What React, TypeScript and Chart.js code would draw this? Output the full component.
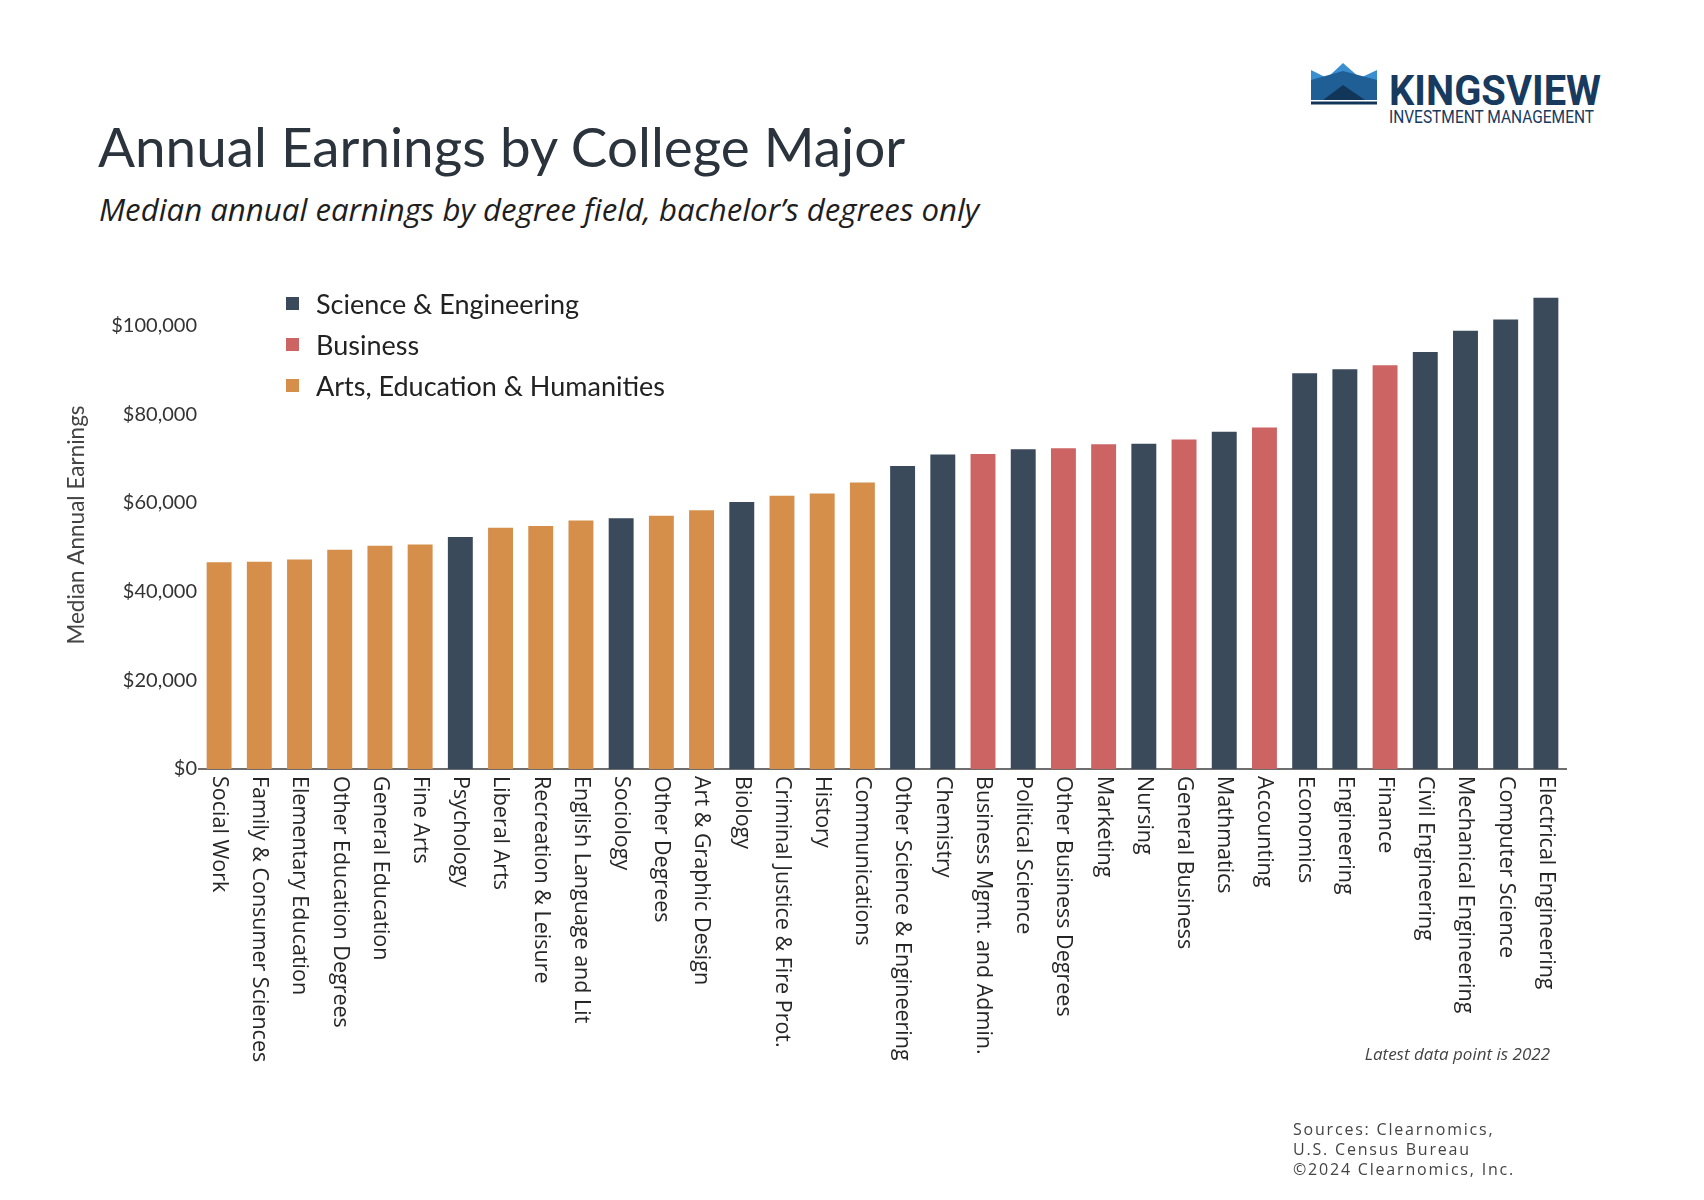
import React, { useEffect, useRef } from "react";
import { Chart, registerables } from "chart.js";

Chart.register(...registerables);

const categories: string[] = [
  "Social Work",
  "Family & Consumer Sciences",
  "Elementary Education",
  "Other Education Degrees",
  "General Education",
  "Fine Arts",
  "Psychology",
  "Liberal Arts",
  "Recreation & Leisure",
  "English Language and Lit",
  "Sociology",
  "Other Degrees",
  "Art & Graphic Design",
  "Biology",
  "Criminal Justice & Fire Prot.",
  "History",
  "Communications",
  "Other Science & Engineering",
  "Chemistry",
  "Business Mgmt. and Admin.",
  "Political Science",
  "Other Business Degrees",
  "Marketing",
  "Nursing",
  "General Business",
  "Mathmatics",
  "Accounting",
  "Economics",
  "Engineering",
  "Finance",
  "Civil Engineering",
  "Mechanical Engineering",
  "Computer Science",
  "Electrical Engineering",
];

const earnings: number[] = [
  46600, 46700, 47200, 49400, 50300, 50600, 52300, 54400, 54800, 56000,
  56500, 57100, 58300, 60200, 61600, 62100, 64600, 68300, 70900, 71000,
  72100, 72300, 73200, 73300, 74300, 76000, 77000, 89200, 90100, 91000,
  94000, 98800, 101300, 106200,
];

// S = Science & Engineering, B = Business, A = Arts, Education & Humanities
const groupOf: string[] = [
  "A", "A", "A", "A", "A", "A", "S", "A", "A", "A",
  "S", "A", "A", "S", "A", "A", "A", "S", "S", "B",
  "S", "B", "B", "S", "B", "S", "B", "S", "S", "B",
  "S", "S", "S", "S",
];

const groupKeys: string[] = ["S", "B", "A"];
const groupNames: string[] = [
  "Science & Engineering",
  "Business",
  "Arts, Education & Humanities",
];
const groupColors: string[] = ["#3a4a5b", "#cd6464", "#d58f4a"];

const yTicks: number[] = [0, 20000, 40000, 60000, 80000, 100000];

const xLabelPlugin = {
  id: "verticalXLabels",
  afterDraw(chart: any) {
    const { ctx } = chart;
    const xs = chart.scales.x;
    const bottom = chart.chartArea.bottom;
    ctx.save();
    ctx.font = "21.5px 'Open Sans'";
    ctx.fillStyle = "#262626";
    ctx.textAlign = "left";
    ctx.textBaseline = "middle";
    categories.forEach((label, i) => {
      const x = xs.getPixelForTick(i);
      ctx.save();
      ctx.translate(x, bottom + 7);
      ctx.rotate(Math.PI / 2);
      ctx.fillText(label, 0, 0);
      ctx.restore();
    });
    ctx.restore();
  },
};

function ChartCanvas() {
  const ref = useRef<HTMLCanvasElement | null>(null);
  useEffect(() => {
    if (!ref.current) return;
    const datasets = groupKeys.map((g, gi) => ({
      label: groupNames[gi],
      data: earnings.map((v, i) => (groupOf[i] === g ? v : null)),
      backgroundColor: groupColors[gi],
      borderWidth: 0,
      grouped: false,
      categoryPercentage: 1,
      barPercentage: 0.62,
    }));
    const chart = new Chart(ref.current, {
      type: "bar",
      data: { labels: categories, datasets },
      plugins: [xLabelPlugin],
      options: {
        animation: false,
        responsive: false,
        maintainAspectRatio: false,
        layout: { padding: { left: 0, top: 281, right: 138, bottom: 431 } },
        plugins: {
          legend: { display: false },
          tooltip: { enabled: false },
        },
        scales: {
          x: {
            ticks: { display: false },
            grid: { display: false, drawTicks: false },
            border: { display: true, color: "#6e6e6e", width: 2 },
            afterFit: (s: any) => {
              s.height = 0;
            },
          },
          y: {
            min: 0,
            max: 110000,
            afterBuildTicks: (s: any) => {
              s.ticks = yTicks.map((v) => ({ value: v }));
            },
            ticks: {
              padding: 2,
              color: "#333333",
              font: { family: "Lato", size: 20 },
              callback: (v: any) => "$" + Number(v).toLocaleString("en-US"),
            },
            grid: { display: false, drawTicks: false },
            border: { display: false },
            title: {
              display: true,
              text: "Median Annual Earnings",
              color: "#444444",
              font: { family: "Lato", size: 22.5 },
              padding: { top: 63, bottom: 0 },
            },
            afterFit: (s: any) => {
              s.width = 199;
            },
          },
        },
      },
    });
    return () => chart.destroy();
  }, []);
  return (
    <canvas
      ref={ref}
      width={1704}
      height={1200}
      style={{ position: "absolute", left: 0, top: 0, width: 1704, height: 1200 }}
    />
  );
}

function Logo() {
  return (
    <svg
      width={320}
      height={90}
      viewBox="0 0 320 90"
      style={{ position: "absolute", left: 1300, top: 50 }}
    >
      <g transform="translate(11,13)">
        <polygon points="0,7 16,15 32,0 49,15 66,7 66,37 0,37" fill="#3a8fd0" />
        <polygon points="0,17 32,8 66,17 66,37 0,37" fill="#1f5f95" />
        <polygon points="12,37 32,22 54,37" fill="#12365a" />
        <rect x={0} y={38.5} width={66} height={3} fill="#12365a" />
      </g>
      <text
        x={89}
        y={55}
        textLength={212}
        lengthAdjust="spacingAndGlyphs"
        fontFamily="Roboto"
        fontWeight={700}
        fontSize={43}
        fill="#173a5e"
      >
        KINGSVIEW
      </text>
      <text
        x={89}
        y={73}
        textLength={205}
        lengthAdjust="spacingAndGlyphs"
        fontFamily="Roboto"
        fontSize={19}
        fill="#173a5e"
      >
        INVESTMENT MANAGEMENT
      </text>
    </svg>
  );
}

export default function App() {
  const abs = (o: React.CSSProperties): React.CSSProperties => ({
    position: "absolute",
    whiteSpace: "nowrap",
    ...o,
  });
  return (
    <div
      style={{
        position: "absolute",
        left: 0,
        top: 0,
        width: 1704,
        height: 1200,
        background: "#ffffff",
        overflow: "hidden",
      }}
    >
      <Logo />
      <div
        style={abs({
          left: 98,
          top: 114,
          fontFamily: "Lato",
          fontSize: 54.8,
          lineHeight: "64px",
          color: "#2b333d",
        })}
      >
        Annual Earnings by College Major
      </div>
      <div
        style={abs({
          left: 99,
          top: 189,
          fontFamily: "Open Sans",
          fontStyle: "italic",
          fontSize: 31.2,
          lineHeight: "40px",
          color: "#1e1e1e",
        })}
      >
        Median annual earnings by degree field, bachelor’s degrees only
      </div>
      <ChartCanvas />
      <div style={abs({ left: 280, top: 283, fontFamily: "Lato", fontSize: 27, color: "#222" })}>
        {groupNames.map((n, i) => (
          <div
            key={n}
            style={{ display: "flex", alignItems: "center", height: 41 }}
          >
            <span
              style={{
                display: "inline-block",
                width: 13,
                height: 13,
                background: groupColors[i],
                marginLeft: 6,
                marginRight: 17,
              }}
            />
            <span>{n}</span>
          </div>
        ))}
      </div>
      <div
        style={abs({
          right: 1704 - 1550,
          top: 1042,
          fontFamily: "Open Sans",
          fontStyle: "italic",
          fontSize: 17,
          color: "#444",
        })}
      >
        Latest data point is 2022
      </div>
      <div
        style={abs({
          left: 1293,
          top: 1119,
          fontFamily: "Open Sans",
          fontSize: 16,
          lineHeight: "20px",
          letterSpacing: 1.8,
          color: "#444",
        })}
      >
        <div>Sources: Clearnomics,</div>
        <div>U.S. Census Bureau</div>
        <div>©2024 Clearnomics, Inc.</div>
      </div>
    </div>
  );
}
